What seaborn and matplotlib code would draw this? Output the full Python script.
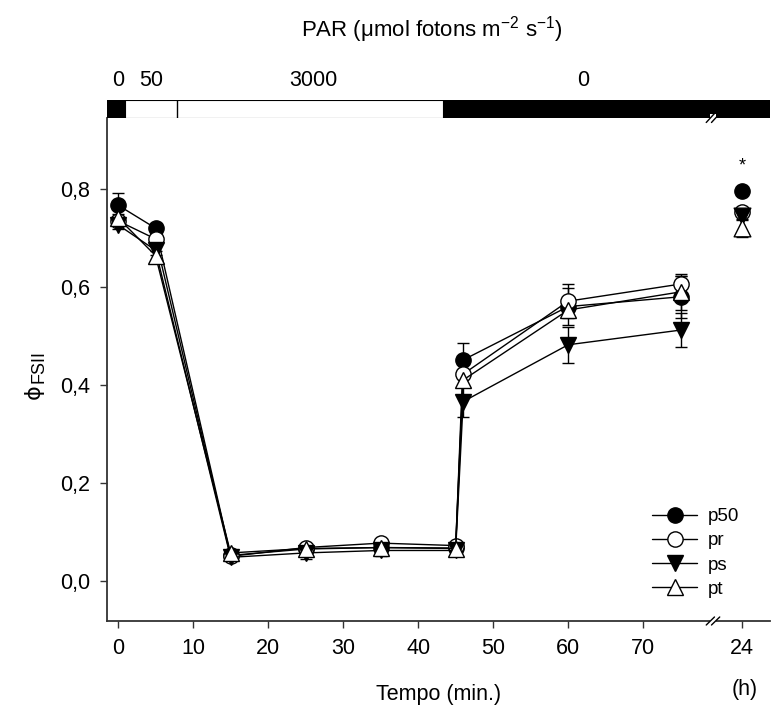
import numpy as np
import pandas as pd
import matplotlib
matplotlib.use("Agg")
import matplotlib.pyplot as plt
import matplotlib.transforms as mtransforms
from matplotlib.patches import Rectangle
import seaborn as sns

# ---------------- data ----------------
time_min = [0, 5, 15, 25, 35, 45, 46, 60, 75]
series_names = ["p50", "pr", "ps", "pt"]

p50_mean = [0.767, 0.720, 0.052, 0.065, 0.068, 0.067, 0.451, 0.560, 0.580]
pr_mean = [0.735, 0.698, 0.050, 0.068, 0.077, 0.072, 0.422, 0.571, 0.606]
ps_mean = [0.727, 0.675, 0.048, 0.057, 0.062, 0.062, 0.366, 0.482, 0.512]
pt_mean = [0.741, 0.664, 0.057, 0.066, 0.068, 0.066, 0.410, 0.553, 0.590]

p50_sd = [0.024, 0.010, 0.005, 0.006, 0.006, 0.006, 0.035, 0.038, 0.043]
pr_sd = [0.010, 0.010, 0.005, 0.006, 0.006, 0.006, 0.010, 0.035, 0.016]
ps_sd = [0.008, 0.010, 0.006, 0.012, 0.012, 0.010, 0.031, 0.037, 0.034]
pt_sd = [0.008, 0.010, 0.005, 0.006, 0.006, 0.006, 0.010, 0.014, 0.037]

h24_label = "24"
h24_mean = {"p50": 0.796, "pr": 0.754, "ps": 0.745, "pt": 0.720}
h24_sd = {"p50": 0.006, "pr": 0.010, "ps": 0.008, "pt": 0.018}

par_labels = ["0", "50", "3000", "0"]
par_label_x = [0, 4.4, 26, 62]
par_dark_segments = [(-1.47, 0.9), (43.3, 86.9)]
par_separators = [7.8]

x_ticks = [0, 10, 20, 30, 40, 50, 60, 70]
y_ticks = [0.0, 0.2, 0.4, 0.6, 0.8]
y_tick_labels = ["0,0", "0,2", "0,4", "0,6", "0,8"]

# ---------------- style ----------------
sns.set_theme(style="ticks")
plt.rcParams["font.family"] = ["Liberation Sans", "DejaVu Sans"]
plt.rcParams["mathtext.fontset"] = "custom"
plt.rcParams["mathtext.rm"] = "Liberation Sans"
plt.rcParams["mathtext.it"] = "Liberation Sans:italic"
plt.rcParams["mathtext.sf"] = "Liberation Sans"
for k in ["text.color", "axes.labelcolor", "xtick.color", "ytick.color"]:
    plt.rcParams[k] = "black"

XMIN, XMAX = -1.47, 86.9
YMIN, YMAX = -0.082, 0.945
X24 = 83.2
XBREAK = 79.3

styles = {
    "p50": dict(marker="o", mfc="black"),
    "pr": dict(marker="o", mfc="white"),
    "ps": dict(marker="v", mfc="black"),
    "pt": dict(marker="^", mfc="white"),
}
means = {"p50": p50_mean, "pr": pr_mean, "ps": ps_mean, "pt": pt_mean}
sds = {"p50": p50_sd, "pr": pr_sd, "ps": ps_sd, "pt": pt_sd}

fig = plt.figure(figsize=(7.71, 7.06), dpi=100)
ax = fig.add_axes([107 / 771, 85 / 706, 663 / 771, 503 / 706])

handles = []
for i, name in enumerate(series_names):
    df = pd.DataFrame({"t": time_min, "v": means[name]})
    st = styles[name]
    ms = 11 if st["marker"] == "o" else 12
    ax.errorbar(time_min, means[name], yerr=sds[name], fmt="none", ecolor="black",
                elinewidth=1, capsize=4.5, capthick=1, zorder=2 + i * 0.1)
    sns.lineplot(data=df, x="t", y="v", ax=ax, color="black", linewidth=1,
                 marker=st["marker"], markersize=ms, markerfacecolor=st["mfc"],
                 markeredgecolor="black", markeredgewidth=1, zorder=3 + i * 0.1,
                 label=name, legend=False)
    handles.append(ax.lines[-1])
    # 24 h point
    ax.errorbar([X24], [h24_mean[name]], yerr=[h24_sd[name]], fmt="none", ecolor="black",
                elinewidth=1, capsize=4.5, capthick=1, zorder=2 + i * 0.1)
    sns.scatterplot(x=[X24], y=[h24_mean[name]], ax=ax, marker=st["marker"],
                    s=(ms ** 2), color=st["mfc"], edgecolor="black", linewidth=1,
                    zorder=3 + i * 0.1, legend=False)

ax.text(X24, 0.848, "*", ha="center", va="center", fontsize=13)

ax.set_xlim(XMIN, XMAX)
ax.set_ylim(YMIN, YMAX)
ax.set_xticks(x_ticks + [X24])
ax.set_xticklabels([str(t) for t in x_ticks] + [h24_label])
ax.set_yticks(y_ticks)
ax.set_yticklabels(y_tick_labels)
ax.tick_params(axis="both", labelsize=15.5, length=5, width=1, color="#333333", pad=7,
               direction="out")
for s in ["top", "right"]:
    ax.spines[s].set_visible(False)
for s in ["left", "bottom"]:
    ax.spines[s].set_color("#333333")
    ax.spines[s].set_linewidth(1.3)
ax.set_xlabel("Tempo (min.)", fontsize=15.5, labelpad=18)
ax.set_ylabel("")
ax.grid(False)

# y label: phi symbol + subscript FSII
fig.text(34 / 771, 1 - 392 / 706, "ϕ", rotation=90, ha="center", va="center",
         fontsize=16, family="DejaVu Sans")
fig.text(39 / 771, 1 - 366 / 706, "FSII", rotation=90, ha="center", va="center",
         fontsize=13)

fig.text(745 / 771, 1 - 690 / 706, "(h)", ha="center", va="center", fontsize=15.5)

# axis break on bottom axis
trans = mtransforms.blended_transform_factory(ax.transData, ax.transAxes)
ax.add_patch(Rectangle((XBREAK - 0.35, -0.01), 0.7, 0.02, transform=trans,
                       facecolor="white", edgecolor="none", clip_on=False, zorder=10))
for dx in (-0.35, 0.35):
    ax.plot([XBREAK + dx - 0.55, XBREAK + dx + 0.55], [-0.008, 0.008], transform=trans,
            color="black", lw=1, clip_on=False, zorder=11)

# legend
leg = ax.legend(handles=handles, labels=series_names, loc="upper left",
                bbox_to_anchor=(652 / 771, 1 - 508 / 706), bbox_transform=fig.transFigure,
                frameon=False, fontsize=13.5, handlelength=2.4, handletextpad=0.6,
                labelspacing=0.38, borderpad=0, borderaxespad=0)

# PAR bar
bax = fig.add_axes([107 / 771, 588 / 706, 663 / 771, 18 / 706])
bax.set_xlim(XMIN, XMAX)
bax.set_ylim(0, 1)
bax.axis("off")
bax.add_patch(Rectangle((XMIN, 0), XMAX - XMIN, 1, facecolor="white", edgecolor="black",
                        lw=0.8))
for a, b in par_dark_segments:
    bax.add_patch(Rectangle((a, 0), b - a, 1, facecolor="black", edgecolor="black", lw=0.8))
for xs in par_separators:
    bax.plot([xs, xs], [0, 1], color="black", lw=1)
for lab, xl in zip(par_labels, par_label_x):
    bax.text(xl, 2.1, lab, ha="center", va="center", fontsize=15.5)
# break marks on bar
bax.add_patch(Rectangle((XBREAK - 0.35, -0.25), 0.7, 0.5, facecolor="white",
                        edgecolor="none", clip_on=False, zorder=10))
for dx in (-0.35, 0.35):
    bax.plot([XBREAK + dx - 0.55, XBREAK + dx + 0.55], [-0.25, 0.25], color="black",
             lw=1, clip_on=False, zorder=11)

fig.text(432 / 771, 1 - 30 / 706, r"PAR ($\mathrm{μ}$mol fotons m$^{-2}$ s$^{-1}$)",
         ha="center", va="center", fontsize=16)

fig.savefig("out.png", dpi=100)
